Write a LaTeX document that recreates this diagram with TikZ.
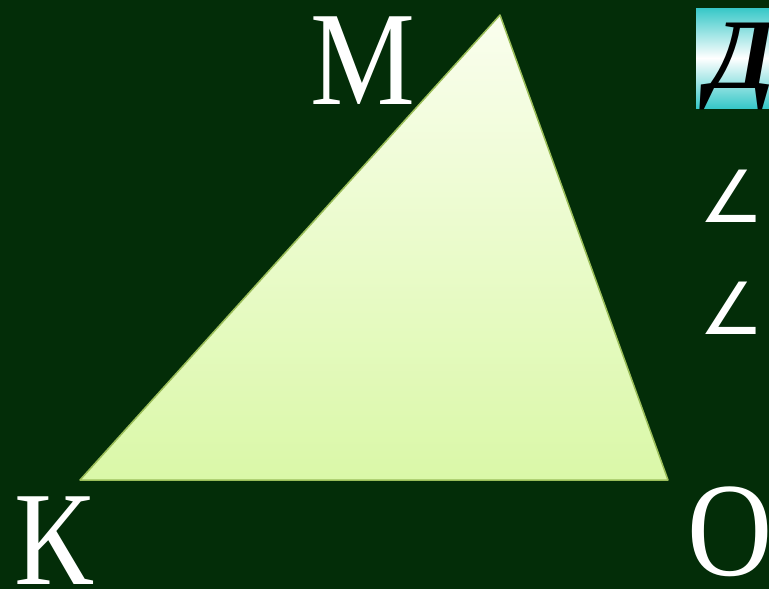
\documentclass[tikz,border=0pt]{standalone}
\usepackage{fontspec}
\setmainfont{Liberation Serif}
\newfontfamily\symfont{DejaVu Sans}
\usetikzlibrary{positioning}

\definecolor{boardgreen}{RGB}{3,45,8}
\definecolor{triedge}{RGB}{155,190,90}
\definecolor{tritop}{RGB}{250,254,238}
\definecolor{tribottom}{RGB}{218,248,168}
\definecolor{titlecyan}{RGB}{55,200,200}

\tikzset{
  vertex/.style={text=white, inner sep=0pt, anchor=base, xscale=0.88, font=\fontsize{134}{134}\selectfont},
  anglemark/.style={text=white, inner sep=0pt, anchor=base west, font=\symfont\fontsize{72}{72}\selectfont},
}

\begin{document}
\begin{tikzpicture}[x=1pt, y=-1pt]
  % board
  \fill[boardgreen] (0,0) rectangle (769,589);
  \useasboundingbox (0,0) rectangle (769,589);

  % triangle KMO
  \coordinate (k) at (80,480);
  \coordinate (m) at (500,15);
  \coordinate (o) at (668,480);
  \shade[top color=tritop, bottom color=tribottom] (k) -- (m) -- (o) -- cycle;
  \draw[triedge, line width=1.5pt, line join=round] (k) -- (m) -- (o) -- cycle;

  % vertex letters
  \node[vertex] (lm) at (363,104) {М};
  \node[vertex] (lk) at (54,584) {К};
  \node[vertex] (lo) at (730,575) {О};

  % title plate, cut off by the edge
  \shade[top color=titlecyan, bottom color=titlecyan, middle color=white] (696,8) rectangle (775,108);
  \node[inner sep=0pt, anchor=base west, font=\fontsize{100}{100}\selectfont\bfseries\itshape] (title) at (707,88) {Д};

  % angle lines, cut off by the edge
  \node[anglemark] (a1) at (699,222) {∠};
  \node[anglemark] (a2) at (699,334) {∠};
\end{tikzpicture}
\end{document}
